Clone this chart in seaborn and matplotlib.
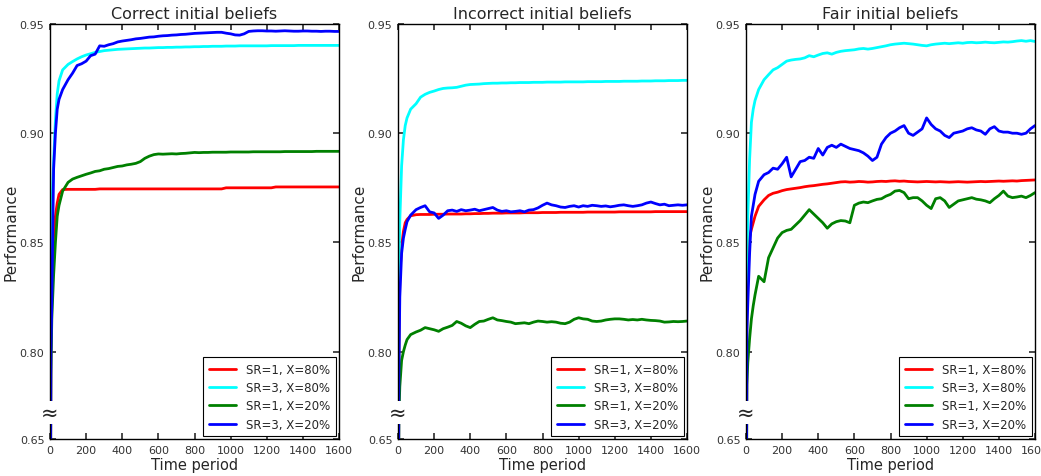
import matplotlib
matplotlib.use("Agg")
import matplotlib.pyplot as plt
import seaborn as sns
import pandas as pd

# ---------------- data ----------------
time_period = [0, 5, 10, 20, 30, 40, 50, 70,
               100, 125, 150, 175, 200, 225, 250, 275, 300, 325,
               350, 375, 400, 425, 450, 475, 500, 525, 550, 575,
               600, 625, 650, 675, 700, 725, 750, 775, 800, 825,
               850, 875, 900, 925, 950, 975, 1000, 1025, 1050, 1075,
               1100, 1125, 1150, 1175, 1200, 1225, 1250, 1275, 1300, 1325,
               1350, 1375, 1400, 1425, 1450, 1475, 1500, 1525, 1550, 1575,
               1600]

series_labels = ["SR=1, X=80%", "SR=3, X=80%", "SR=1, X=20%", "SR=3, X=20%"]
series_colors = ["#ff0000", "#00ffff", "#008000", "#0000ff"]
panel_titles = ["Correct initial beliefs", "Incorrect initial beliefs", "Fair initial beliefs"]
ytick_values = [0.76, 0.80, 0.85, 0.90, 0.95]
ytick_labels = ["0.65", "0.80", "0.85", "0.90", "0.95"]

# Correct initial beliefs
correct_sr1_x80 = [0.65, 0.80, 0.835, 0.853, 0.862, 0.868, 0.872, 0.8742,
                   0.8743, 0.8743, 0.8743, 0.8743, 0.8743, 0.8743, 0.8743, 0.8745, 0.8745, 0.8745,
                   0.8745, 0.8745, 0.8745, 0.8745, 0.8745, 0.8745, 0.8745, 0.8745, 0.8745, 0.8745,
                   0.8745, 0.8745, 0.8745, 0.8745, 0.8745, 0.8745, 0.8745, 0.8745, 0.8745, 0.8745,
                   0.8745, 0.8745, 0.8745, 0.8745, 0.8745, 0.8750, 0.8750, 0.8750, 0.8750, 0.8750,
                   0.8750, 0.8750, 0.8750, 0.8750, 0.8750, 0.8750, 0.8754, 0.8754, 0.8754, 0.8754,
                   0.8754, 0.8754, 0.8754, 0.8754, 0.8754, 0.8754, 0.8754, 0.8754, 0.8754, 0.8754,
                   0.8754]
correct_sr3_x80 = [0.65, 0.84, 0.865, 0.887, 0.906, 0.918, 0.924, 0.929,
                   0.9315, 0.9328, 0.9340, 0.9350, 0.9358, 0.9364, 0.9370, 0.9374, 0.9378, 0.9380,
                   0.9382, 0.9384, 0.9385, 0.9386, 0.9387, 0.9388, 0.9389, 0.9390, 0.9390, 0.9391,
                   0.9392, 0.9392, 0.9393, 0.9393, 0.9394, 0.9394, 0.9395, 0.9395, 0.9396, 0.9396,
                   0.9397, 0.9397, 0.9398, 0.9398, 0.9398, 0.9399, 0.9399, 0.9399, 0.9400, 0.9400,
                   0.9400, 0.9400, 0.9400, 0.9400, 0.9400, 0.9401, 0.9401, 0.9401, 0.9401, 0.9401,
                   0.9401, 0.9402, 0.9402, 0.9402, 0.9402, 0.9402, 0.9402, 0.9402, 0.9402, 0.9402,
                   0.9402]
correct_sr1_x20 = [0.65, 0.79, 0.815, 0.835, 0.850, 0.862, 0.867, 0.8735,
                   0.8775, 0.8790, 0.8798, 0.8805, 0.8812, 0.8818, 0.8825, 0.8828, 0.8835, 0.8838,
                   0.8843, 0.8848, 0.8850, 0.8855, 0.8858, 0.8862, 0.8870, 0.8885, 0.8895, 0.8902,
                   0.8905, 0.8904, 0.8905, 0.8906, 0.8905, 0.8907, 0.8908, 0.8910, 0.8912, 0.8911,
                   0.8912, 0.8912, 0.8913, 0.8913, 0.8913, 0.8913, 0.8914, 0.8914, 0.8914, 0.8914,
                   0.8914, 0.8915, 0.8915, 0.8915, 0.8915, 0.8915, 0.8915, 0.8915, 0.8916, 0.8916,
                   0.8916, 0.8916, 0.8916, 0.8916, 0.8916, 0.8917, 0.8917, 0.8917, 0.8917, 0.8917,
                   0.8917]
correct_sr3_x20 = [0.65, 0.80, 0.8225, 0.8835, 0.900, 0.911, 0.9155, 0.920,
                   0.9245, 0.9275, 0.9310, 0.9318, 0.9330, 0.9355, 0.9362, 0.9400, 0.9398, 0.9405,
                   0.9410, 0.9418, 0.9422, 0.9425, 0.9428, 0.9432, 0.9434, 0.9437, 0.9440, 0.9441,
                   0.9444, 0.9446, 0.9447, 0.9449, 0.9450, 0.9452, 0.9453, 0.9455, 0.9457, 0.9458,
                   0.9459, 0.9460, 0.9461, 0.9462, 0.9462, 0.9458, 0.9455, 0.9450, 0.9449, 0.9455,
                   0.9466, 0.9468, 0.9469, 0.9469, 0.9468, 0.9468, 0.9467, 0.9468, 0.9469, 0.9468,
                   0.9467, 0.9467, 0.9468, 0.9468, 0.9467, 0.9467, 0.9466, 0.9467, 0.9467, 0.9466,
                   0.9466]

# Incorrect initial beliefs
incorrect_sr1_x80 = [0.65, 0.80, 0.835, 0.848, 0.855, 0.859, 0.8605, 0.8622,
                     0.8627, 0.8628, 0.8628, 0.8628, 0.8629, 0.8629, 0.8629, 0.8630, 0.8630, 0.8630,
                     0.8630, 0.8631, 0.8631, 0.8632, 0.8632, 0.8633, 0.8633, 0.8634, 0.8634, 0.8634,
                     0.8635, 0.8635, 0.8635, 0.8635, 0.8636, 0.8636, 0.8636, 0.8636, 0.8637, 0.8637,
                     0.8637, 0.8637, 0.8638, 0.8638, 0.8638, 0.8638, 0.8638, 0.8638, 0.8639, 0.8639,
                     0.8639, 0.8639, 0.8639, 0.8639, 0.8639, 0.8640, 0.8640, 0.8640, 0.8640, 0.8640,
                     0.8640, 0.8640, 0.8640, 0.8641, 0.8641, 0.8641, 0.8641, 0.8641, 0.8641, 0.8641,
                     0.8641]
incorrect_sr3_x80 = [0.65, 0.835, 0.860, 0.885, 0.897, 0.9035, 0.907, 0.911,
                     0.9135, 0.9165, 0.9178, 0.9187, 0.9193, 0.9200, 0.9205, 0.9207, 0.9208, 0.9210,
                     0.9215, 0.9220, 0.9223, 0.9224, 0.9225, 0.9227, 0.9228, 0.9229, 0.9229, 0.9230,
                     0.9230, 0.9231, 0.9231, 0.9232, 0.9232, 0.9232, 0.9233, 0.9233, 0.9233, 0.9234,
                     0.9234, 0.9234, 0.9234, 0.9235, 0.9235, 0.9235, 0.9235, 0.9235, 0.9236, 0.9236,
                     0.9236, 0.9236, 0.9237, 0.9237, 0.9237, 0.9237, 0.9238, 0.9238, 0.9238, 0.9238,
                     0.9239, 0.9239, 0.9239, 0.9240, 0.9240, 0.9240, 0.9241, 0.9241, 0.9241, 0.9242,
                     0.9242]
incorrect_sr1_x20 = [0.65, 0.77, 0.784, 0.796, 0.800, 0.803, 0.8055, 0.8078,
                     0.8090, 0.8098, 0.8110, 0.8105, 0.8100, 0.8093, 0.8105, 0.8112, 0.8120, 0.8138,
                     0.8130, 0.8118, 0.8110, 0.8125, 0.8138, 0.8140, 0.8148, 0.8155, 0.8145, 0.8142,
                     0.8138, 0.8135, 0.8128, 0.8130, 0.8132, 0.8128, 0.8135, 0.8140, 0.8138, 0.8135,
                     0.8137, 0.8135, 0.8130, 0.8128, 0.8135, 0.8148, 0.8155, 0.8150, 0.8148, 0.8140,
                     0.8138, 0.8140, 0.8145, 0.8148, 0.8150, 0.8150, 0.8148, 0.8145, 0.8147, 0.8145,
                     0.8148, 0.8145, 0.8143, 0.8142, 0.8140, 0.8135, 0.8136, 0.8138, 0.8137, 0.8138,
                     0.8140]
incorrect_sr3_x20 = [0.65, 0.79, 0.825, 0.845, 0.852, 0.856, 0.8595, 0.8625,
                     0.8650, 0.8660, 0.8668, 0.8640, 0.8635, 0.8610, 0.8625, 0.8645, 0.8648, 0.8642,
                     0.8650, 0.8645, 0.8648, 0.8652, 0.8645, 0.8650, 0.8655, 0.8660, 0.8648, 0.8642,
                     0.8645, 0.8640, 0.8642, 0.8645, 0.8640, 0.8648, 0.8650, 0.8658, 0.8670, 0.8680,
                     0.8672, 0.8668, 0.8662, 0.8660, 0.8665, 0.8668, 0.8662, 0.8668, 0.8665, 0.8670,
                     0.8668, 0.8665, 0.8667, 0.8663, 0.8666, 0.8670, 0.8672, 0.8668, 0.8665, 0.8668,
                     0.8672, 0.8680, 0.8685, 0.8678, 0.8672, 0.8675, 0.8668, 0.8670, 0.8672, 0.8670,
                     0.8672]

# Fair initial beliefs
fair_sr1_x80 = [0.65, 0.82, 0.840, 0.8525, 0.856, 0.859, 0.862, 0.8665,
                0.8695, 0.8715, 0.8725, 0.8730, 0.8737, 0.8742, 0.8745, 0.8748, 0.8751, 0.8755,
                0.8758, 0.8760, 0.8763, 0.8766, 0.8768, 0.8771, 0.8774, 0.8777, 0.8778, 0.8776,
                0.8777, 0.8779, 0.8778, 0.8776, 0.8777, 0.8779, 0.8780, 0.8779, 0.8781, 0.8782,
                0.8780, 0.8781, 0.8779, 0.8778, 0.8777, 0.8778, 0.8779, 0.8778, 0.8777, 0.8778,
                0.8777, 0.8776, 0.8777, 0.8778, 0.8777, 0.8776, 0.8777, 0.8778, 0.8779, 0.8778,
                0.8779, 0.8780, 0.8781, 0.8780, 0.8781, 0.8782, 0.8781, 0.8783, 0.8784, 0.8785,
                0.8786]
fair_sr3_x80 = [0.65, 0.84, 0.862, 0.888, 0.905, 0.911, 0.915, 0.920,
                0.9245, 0.9268, 0.9290, 0.9300, 0.9315, 0.9330, 0.9335, 0.9338, 0.9340, 0.9345,
                0.9355, 0.9350, 0.9358, 0.9365, 0.9368, 0.9362, 0.9370, 0.9375, 0.9378, 0.9380,
                0.9382, 0.9386, 0.9388, 0.9385, 0.9388, 0.9392, 0.9396, 0.9400, 0.9405, 0.9408,
                0.9410, 0.9412, 0.9410, 0.9408, 0.9405, 0.9402, 0.9400, 0.9405, 0.9408, 0.9410,
                0.9412, 0.9410, 0.9412, 0.9414, 0.9412, 0.9415, 0.9416, 0.9414, 0.9415, 0.9417,
                0.9415, 0.9414, 0.9416, 0.9418, 0.9417, 0.9419, 0.9422, 0.9424, 0.9421, 0.9424,
                0.9420]
fair_sr1_x20 = [0.65, 0.785, 0.795, 0.806, 0.815, 0.821, 0.826, 0.8345,
                0.8320, 0.8430, 0.8475, 0.8520, 0.8545, 0.8555, 0.8560, 0.8580, 0.8600, 0.8625,
                0.8650, 0.8630, 0.8610, 0.8590, 0.8565, 0.8585, 0.8595, 0.8600, 0.8598, 0.8590,
                0.8670, 0.8680, 0.8685, 0.8682, 0.8690, 0.8697, 0.8700, 0.8712, 0.8720, 0.8735,
                0.8738, 0.8728, 0.8700, 0.8705, 0.8705, 0.8690, 0.8670, 0.8655, 0.8700, 0.8705,
                0.8690, 0.8660, 0.8675, 0.8690, 0.8695, 0.8700, 0.8705, 0.8698, 0.8695, 0.8690,
                0.8682, 0.8700, 0.8715, 0.8735, 0.8712, 0.8705, 0.8708, 0.8712, 0.8705, 0.8715,
                0.8728]
fair_sr3_x20 = [0.65, 0.81, 0.822, 0.845, 0.862, 0.867, 0.872, 0.878,
                0.8810, 0.8820, 0.8840, 0.8835, 0.8860, 0.8890, 0.8800, 0.8835, 0.8870, 0.8875,
                0.8890, 0.8885, 0.8930, 0.8900, 0.8935, 0.8945, 0.8935, 0.8950, 0.8940, 0.8930,
                0.8925, 0.8920, 0.8910, 0.8895, 0.8875, 0.8890, 0.8950, 0.8980, 0.9000, 0.9010,
                0.9025, 0.9035, 0.9000, 0.8990, 0.9005, 0.9020, 0.9070, 0.9040, 0.9020, 0.9010,
                0.8990, 0.8980, 0.9000, 0.9005, 0.9010, 0.9020, 0.9025, 0.9015, 0.9010, 0.8995,
                0.9020, 0.9030, 0.9010, 0.9005, 0.9005, 0.9000, 0.9000, 0.8995, 0.9000, 0.9020,
                0.9035]

panels = [
    [correct_sr1_x80, correct_sr3_x80, correct_sr1_x20, correct_sr3_x20],
    [incorrect_sr1_x80, incorrect_sr3_x80, incorrect_sr1_x20, incorrect_sr3_x20],
    [fair_sr1_x80, fair_sr3_x80, fair_sr1_x20, fair_sr3_x20],
]

# ---------------- style ----------------
sns.set_theme(style="ticks")
plt.rcParams.update({
    "font.family": ["DejaVu Sans"],
    "axes.edgecolor": "black",
    "axes.linewidth": 1.0,
    "xtick.direction": "in",
    "ytick.direction": "in",
    "xtick.top": True,
    "ytick.right": True,
    "xtick.major.size": 4,
    "ytick.major.size": 4,
    "xtick.major.pad": 4,
    "ytick.major.pad": 4,
    "xtick.color": "#333333",
    "ytick.color": "#333333",
    "xtick.labelsize": 8,
    "ytick.labelsize": 8,
})

fig = plt.figure(figsize=(10.41, 4.77), dpi=100)
lefts = [50 / 1041, 398 / 1041, 746 / 1041]
width = 289 / 1041
bottom = 1 - 440 / 477
height = 415 / 477

for i, (title, series) in enumerate(zip(panel_titles, panels)):
    ax = fig.add_axes([lefts[i], bottom, width, height])
    frames = []
    for lab, vals in zip(series_labels, series):
        frames.append(pd.DataFrame({"time": time_period, "perf": vals, "series": lab}))
    df = pd.concat(frames, ignore_index=True)
    sns.lineplot(data=df, x="time", y="perf", hue="series", hue_order=series_labels,
                 palette=series_colors, linewidth=2.0, ax=ax, legend=True)
    ax.set_xlim(0, 1600)
    ax.set_ylim(0.76, 0.95)
    ax.set_xticks(range(0, 1601, 200))
    ax.set_yticks(ytick_values)
    ax.set_yticklabels(ytick_labels)
    ax.set_title(title, fontsize=11.5, pad=4)
    ax.set_xlabel("Time period", fontsize=10.5, labelpad=2)
    ax.set_ylabel("Performance", fontsize=11, labelpad=1)
    ax.text(0, 0.772, "\u2248", ha="center", va="center", fontsize=15,
            transform=ax.transData, clip_on=False, zorder=10,
            bbox=dict(facecolor="white", edgecolor="none", pad=1.0))
    old = ax.get_legend()
    handles = old.legend_handles
    labels = [t.get_text() for t in old.get_texts()]
    for h in handles:
        h.set_linewidth(2.0)
    ax.legend(handles, labels, loc="lower right", fontsize=8.5, frameon=True,
              fancybox=False, edgecolor="black", framealpha=1.0,
              handlelength=2.3, handletextpad=0.9, borderaxespad=0.25,
              labelspacing=0.45, borderpad=0.45)
    ax.get_legend().get_frame().set_linewidth(0.8)

fig.savefig("out.png", dpi=100)
